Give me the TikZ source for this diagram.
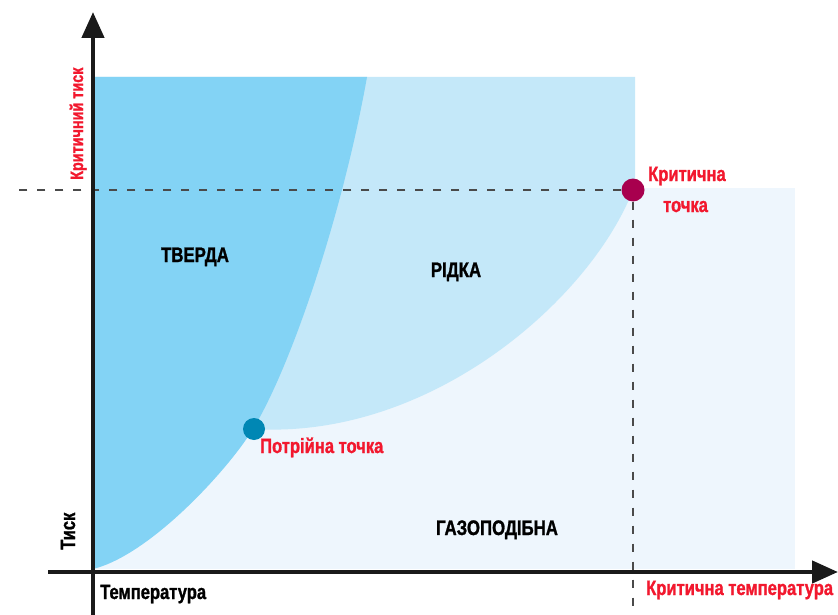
\documentclass[tikz,border=0pt]{standalone}
\usepackage{fontspec}
\usetikzlibrary{arrows.meta}
\newfontfamily\condfont[FakeStretch=0.8,BoldFeatures={FakeBold=1.2}]{Liberation Sans}
\definecolor{solidblue}{HTML}{83D3F5}
\definecolor{liquidblue}{HTML}{C4E8F9}
\definecolor{gaspale}{HTML}{EEF6FD}
\definecolor{critred}{HTML}{A8004E}
\definecolor{tripleblue}{HTML}{0087B4}
\definecolor{labelred}{HTML}{F2182E}
\definecolor{axisblack}{HTML}{1A1A1A}
\definecolor{dashgrey}{HTML}{4A4A4A}
\begin{document}
\begin{tikzpicture}[x=1pt,y=-1pt,
  axisline/.style={draw=axisblack,line width=4.5pt,-{Triangle[length=26pt,width=22pt]}},
  guide/.style={draw=dashgrey,line width=2.6pt,dash pattern=on 8pt off 10pt},
  phase/.style={font=\condfont\bfseries\fontsize{21}{23}\selectfont,text=black,inner sep=0pt},
  redlabel/.style={font=\condfont\bfseries\fontsize{20.7}{23}\selectfont,text=labelred,inner sep=0pt},
  blacklabel/.style={font=\condfont\bfseries\fontsize{20.7}{23}\selectfont,text=black,inner sep=0pt},
  dot/.style={circle,inner sep=0pt,minimum size=23pt}]
\useasboundingbox (0,0) rectangle (838,615);
\fill[white] (0,0) rectangle (838,615);

% gas region
\fill[gaspale] (93,188) rectangle (795,569);
% liquid region, bounded below by the vaporisation curve
\fill[liquidblue] (93,77) -- (635,77) -- (635,190) -- (633,190)
  .. controls (590,300) and (430,440) .. (253,429) -- (93,429) -- cycle;
% solid region, bounded by the melting and sublimation curves
\fill[solidblue] (93,77) -- (367,77)
  .. controls (343,212) and (292,365) .. (253,429)
  .. controls (228,470) and (150,555) .. (93,569)
  -- cycle;

% points
\node[dot,fill=critred] (crit) at (633,190) {};
\node[dot,fill=tripleblue,minimum size=22pt] (triple) at (254,429) {};

% reference lines through the critical point
\coordinate (pcleft) at (12,190);
\coordinate (tcbottom) at (633,615);
\draw[guide] (crit.west) -- (pcleft);
\draw[guide] (crit.south) -- (tcbottom);

% axes
\coordinate (ybottom) at (93,615);
\coordinate (ytop) at (93,12);
\coordinate (xleft) at (48,572);
\coordinate (xright) at (838,572);
\draw[axisline] (ybottom) -- (ytop);
\draw[axisline] (xleft) -- (xright);

% phase labels
\node[phase,anchor=base] (solid) at (195,262) {ТВЕРДА};
\node[phase,anchor=base] (liquid) at (456,277) {РІДКА};
\node[phase,anchor=base] (gas) at (497,535) {ГАЗОПОДІБНА};

% point labels
\node[redlabel,anchor=base west] (triplelbl) at (260,453) {Потрійна точка};
\node[redlabel,anchor=base west] (critlbl1) at (648,181) {Критична};
\node[redlabel,anchor=base west] (critlbl2) at (663,212) {точка};

% axis labels
\node[blacklabel,anchor=base west] (templbl) at (100,599) {Температура};
\node[redlabel,anchor=base west] (tcrit) at (646,595) {Критична температура};
\node[blacklabel,anchor=base west,rotate=90] (preslbl) at (75,550) {Тиск};
\node[redlabel,anchor=base west,rotate=90,font=\condfont\bfseries\fontsize{18}{20}\selectfont] (pcrit) at (83,180) {Критичний тиск};
\end{tikzpicture}
\end{document}
